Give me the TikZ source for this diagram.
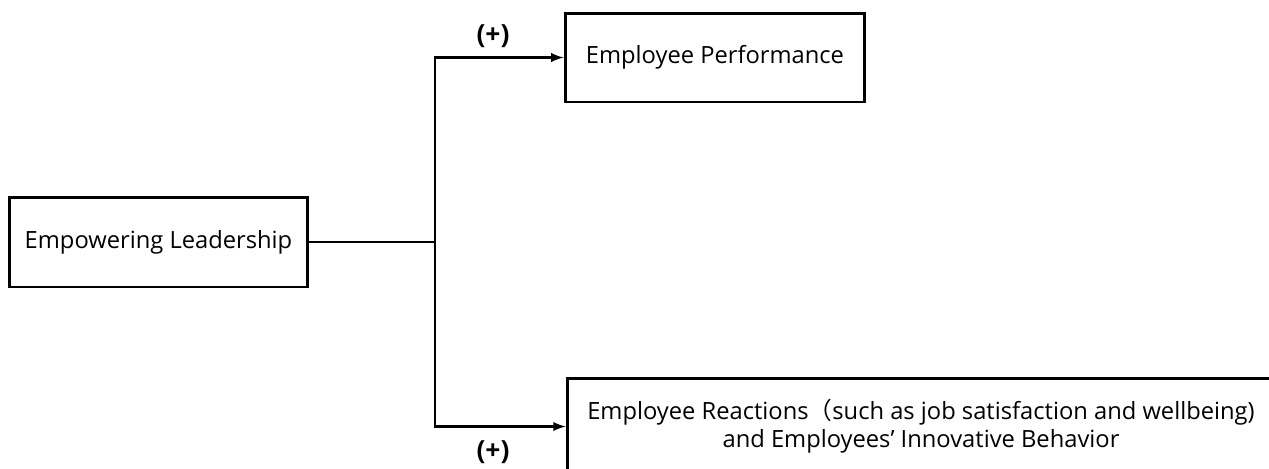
\documentclass[tikz,border=0pt]{standalone}
\usepackage{fontspec}
\setmainfont{Open Sans}
\newfontfamily\cjk{Noto Sans CJK SC}
\usetikzlibrary{arrows}

\begin{document}
\begin{tikzpicture}[x=0.02cm, y=-0.02cm,
				   every node/.style={font=\fontsize{13.5}{16}\selectfont},
				   block/.style={draw=black, line width=1.7pt, align=center, inner sep=0pt},
				   link/.style={draw=black, line width=1.4pt},
				   sign/.style={font=\fontsize{15}{18}\selectfont\bfseries}]
\useasboundingbox (0,0) rectangle (1269,468);
\node[block, minimum width=5.98cm, minimum height=1.8cm] (lead) at (158.5,242) {Empowering Leadership};
\node[block, minimum width=6cm, minimum height=1.78cm] (perf) at (715,57.5) {Employee Performance};
\node[block, minimum width=14.16cm, minimum height=1.94cm] (react) at (921,426.5)
	{Employee Reactions{\cjk （}such as job satisfaction and wellbeing)\\and Employees' Innovative Behavior};
\coordinate (j) at (435,242);
\draw[link] (lead) -- (j);
\draw[link, -latex] (j) |- (perf);
\draw[link, -latex] (j) |- (react);
\node[sign] (plus1) at (493,36) {(+)};
\node[sign] (plus2) at (493,452) {(+)};
\end{tikzpicture}
\end{document}
